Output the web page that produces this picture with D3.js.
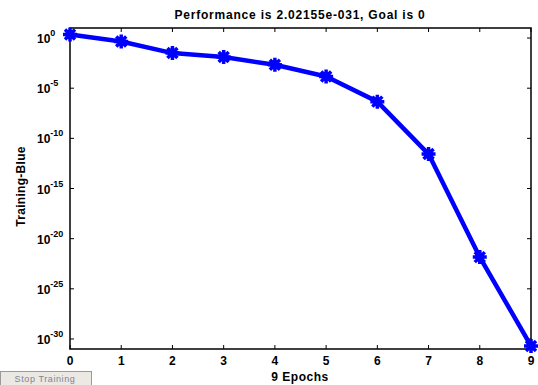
<!DOCTYPE html>
<html>
<head>
<meta charset="utf-8">
<script src="https://cdn.jsdelivr.net/npm/d3@7"></script>
<style>
  body { margin: 0; background: #fff; }
  svg { display: block; font-family: Arial, "Liberation Sans", sans-serif; }
</style>
</head>
<body>
<svg id="chart" width="538" height="385"></svg>
<script>
// training performance per epoch (log10)
var epochs = [0, 1, 2, 3, 4, 5, 6, 7, 8, 9];
var perfLog = [0.35, -0.34, -1.5, -1.9, -2.67, -3.84, -6.34, -11.57, -21.84, -30.69];
var yTickExps = [0, -5, -10, -15, -20, -25, -30];
var xTicks = [0, 1, 2, 3, 4, 5, 6, 7, 8, 9];

var svg = d3.select("#chart");
var margin = {left: 70, top: 28, right: 7, bottom: 36};
var width = 538 - margin.left - margin.right,
    height = 385 - margin.top - margin.bottom;

var x = d3.scaleLinear().domain([0, 9]).range([margin.left, margin.left + width]);
var y = d3.scaleLog().domain([1e-31, 1e1]).range([margin.top + height, margin.top]);

var g = svg.append("g");

// box
g.append("rect")
    .attr("x", margin.left).attr("y", margin.top)
    .attr("width", width).attr("height", height)
    .attr("fill", "#fff").attr("stroke", "#000").attr("stroke-width", 1.5);

// inward ticks on all sides
var tl = 4;
xTicks.forEach(function(d) {
  g.append("line").attr("x1", x(d)).attr("x2", x(d))
      .attr("y1", margin.top + height).attr("y2", margin.top + height - tl)
      .attr("stroke", "#000");
  g.append("line").attr("x1", x(d)).attr("x2", x(d))
      .attr("y1", margin.top).attr("y2", margin.top + tl)
      .attr("stroke", "#000");
  g.append("text").attr("x", x(d)).attr("y", margin.top + height + 16)
      .attr("text-anchor", "middle").attr("font-size", 12).attr("font-weight", "bold")
      .text(d);
});

yTickExps.forEach(function(e) {
  var yy = y(Math.pow(10, e));
  g.append("line").attr("x1", margin.left).attr("x2", margin.left + tl)
      .attr("y1", yy).attr("y2", yy).attr("stroke", "#000");
  g.append("line").attr("x1", margin.left + width).attr("x2", margin.left + width - tl)
      .attr("y1", yy).attr("y2", yy).attr("stroke", "#000");
  var t = g.append("text").attr("x", 37).attr("y", yy + 5)
      .attr("text-anchor", "start").attr("font-size", 12).attr("font-weight", "bold");
  t.append("tspan").text("10");
  t.append("tspan").attr("dy", -7).attr("font-size", 9).text(e === 0 ? "0" : String(e));
});

// line
var line = d3.line()
    .x(function(d, i) { return x(epochs[i]); })
    .y(function(d) { return y(Math.pow(10, d)); });

g.append("path").datum(perfLog)
    .attr("d", line)
    .attr("fill", "none").attr("stroke", "#0000ff").attr("stroke-width", 4.5)
    .attr("stroke-linejoin", "round");

// asterisk markers
var star = "M0,-7V7M-7,0H7M-5,-5L5,5M-5,5L5,-5";
g.selectAll(".mk").data(perfLog).enter().append("path")
    .attr("class", "mk")
    .attr("transform", function(d, i) { return "translate(" + x(epochs[i]) + "," + y(Math.pow(10, d)) + ")"; })
    .attr("d", star)
    .attr("stroke", "#0000ff").attr("stroke-width", 3.5).attr("fill", "none");
g.selectAll(".mkc").data(perfLog).enter().append("circle")
    .attr("cx", function(d, i) { return x(epochs[i]); })
    .attr("cy", function(d) { return y(Math.pow(10, d)); })
    .attr("r", 4.5).attr("fill", "#0000ff");

// titles
g.append("text").attr("x", 300).attr("y", 19)
    .attr("text-anchor", "middle").attr("font-size", 12).attr("font-weight", "bold")
    .attr("letter-spacing", 0.8)
    .text("Performance is 2.02155e-031, Goal is 0");
g.append("text").attr("x", 300).attr("y", 381)
    .attr("text-anchor", "middle").attr("font-size", 12).attr("font-weight", "bold")
    .attr("letter-spacing", 0.5)
    .text("9 Epochs");
g.append("text")
    .attr("transform", "translate(25," + (margin.top + height / 2 - 2) + ") rotate(-90)")
    .attr("text-anchor", "middle").attr("font-size", 12).attr("font-weight", "bold")
    .attr("letter-spacing", 0.3)
    .text("Training-Blue");

// stop training button
g.append("rect").attr("x", 0.5).attr("y", 371.5).attr("width", 91).attr("height", 14)
    .attr("fill", "#ece9e4").attr("stroke", "#9a9a9a");
g.append("text").attr("x", 45).attr("y", 382)
    .attr("text-anchor", "middle").attr("font-size", 9).attr("fill", "#7d8590")
    .attr("letter-spacing", 0.6)
    .text("Stop Training");
</script>
</body>
</html>
